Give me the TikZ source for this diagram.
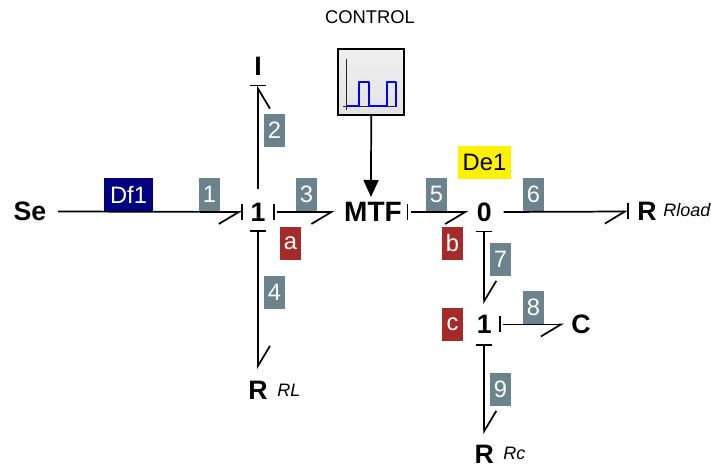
\documentclass[tikz,border=0pt]{standalone}
\usepackage{fontspec}
\setmainfont{Liberation Sans}
\usetikzlibrary{arrows.meta}
\definecolor{tagteal}{HTML}{6B838C}
\definecolor{tagred}{HTML}{A52A2A}
\definecolor{tagnavy}{HTML}{000080}
\newcommand{\fs}[1]{\fontsize{#1}{#1}\selectfont}
\tikzset{
  x=0.75pt,y=-0.75pt,
  elem/.style={inner sep=0pt,outer sep=0pt,font=\fs{20pt}\bfseries,minimum width=#1},
  elem/.default=24pt,
  sublabel/.style={inner sep=0pt,anchor=west,font=\fs{13.5pt}\itshape},
  tag/.style={inner sep=0pt,outer sep=0pt,minimum width=15.75pt,minimum height=24.6pt,text=white,font=\fs{17.8pt}},
  numtag/.style={tag,fill=tagteal},
  redtag/.style={tag,fill=tagred},
  bond/.style={line width=1.3pt},
  bondH/.style={bond,-{Straight Barb[right,length=15pt,width=18pt,line width=1.3pt,line cap=butt]}},
  bondD/.style={bond,-{Straight Barb[left,length=15pt,width=18pt,line width=1.3pt,line cap=butt]}},
  bondU/.style={bond,-{Straight Barb[right,length=15pt,width=18pt,line width=1.3pt,line cap=butt]}},
  stroke/.style={line width=1.3pt},
}
\begin{document}
\begin{tikzpicture}
\useasboundingbox (0,0) rectangle (711,466);
% tags
\node[tag,fill=tagnavy,minimum width=36.75pt] (df) at (128.5,194.5) {Df1};
\node[tag,fill=yellow,text=black,minimum width=39.75pt] (de) at (484.5,162.3) {De1};
\node[numtag] (n1) at (209.5,194.5) {1};
\node[numtag] (n2) at (274.5,130.5) {2};
\node[numtag] (n3) at (306.5,194.5) {3};
\node[numtag] (n4) at (274.5,292.5) {4};
\node[numtag] (n5) at (436.5,194.5) {5};
\node[numtag] (n6) at (533.5,194.5) {6};
\node[numtag] (n7) at (500.5,259.5) {7};
\node[numtag] (n8) at (533.5,307.7) {8};
\node[numtag] (n9) at (500.5,389.5) {9};
\node[redtag] (ma) at (290.5,243.5) {a};
\node[redtag] (mb) at (452.5,243.5) {b};
\node[redtag] (mc) at (452.5,324.5) {c};
% elements
\node[elem=42pt] (se) at (30,211.5) {Se};
\node[elem,minimum height=28.5pt] (j1) at (258,212) {1};
\node[elem,minimum height=29.25pt] (ione) at (258,66) {I};
\node[elem,minimum height=31.5pt] (rl) at (258,390) {R};
\node[elem=54.75pt,minimum height=22.5pt,font=\fs{21pt}\bfseries] (mtf) at (371,212) {\hspace{3pt}MTF};
\node[elem,minimum height=29.25pt] (j0) at (484.3,212) {0};
\node[elem=28.5pt] (rload) at (647,211.5) {R};
\node[elem,minimum height=30.75pt] (j2) at (484.3,324.5) {1};
\node[elem=25.5pt] (cap) at (581,324.5) {C};
\node[elem] (rc) at (484.3,454) {R};
\node[sublabel] (rltxt) at (277,390) {RL};
\node[sublabel] (rloadtxt) at (663,210) {Rload};
\node[sublabel] (rctxt) at (503,453.5) {Rc};
% control block
\node[inner sep=0pt,font=\fs{13.8pt}] (ctitle) at (370,17) {CONTROL};
\node[draw=black,line width=1.3pt,top color=gray!12,bottom color=gray!22,minimum width=49.5pt,minimum height=49.5pt,inner sep=0pt,outer sep=0.5pt] (ctrl) at (371.2,82) {};
\draw[line width=0.8pt,black!85] (346.7,59) -- (346.7,110);
\draw[line width=0.8pt,black!85] (343,106.3) -- (397,106.3);
\draw[line width=1.4pt,blue,line join=round] (346.7,106.3) -- (359.3,106.3) -- (359.3,81.7) -- (369.3,81.7) -- (369.3,106.3) -- (386.7,106.3) -- (386.7,81.7) -- (396.3,81.7) -- (396.3,106.3);
\draw[bond,-{Triangle[length=12.75pt,width=11.25pt]}] (ctrl.south) -- (mtf.north);
% bonds
\draw[bondH] (se.east) -- (j1.west);
\draw[bondU,shorten <=3pt] (j1.north) -- (ione.south);
\draw[bondH,shorten <=2pt] (j1.east) -- (mtf.west);
\draw[bondD] (j1.south) -- (rl.north);
\draw[bondH,shorten <=2.5pt] (mtf.east) -- (j0.west);
\draw[bondH,shorten <=2.5pt] (j0.east) -- (rload.west);
\draw[bondD] (j0.south) -- (j2.north);
\draw[bondH,shorten <=2pt] (j2.east) -- (cap.west);
\draw[bondD,shorten >=8.1pt] (j2.south) -- (rc.north);
% causal strokes
\draw[stroke] ([yshift=6pt]j1.west) -- ([yshift=-6pt]j1.west);
\draw[stroke] ([yshift=6pt]j1.east) -- ([yshift=-6pt]j1.east);
\draw[stroke] ([xshift=-6pt]j1.south) -- ([xshift=6pt]j1.south);
\draw[stroke] ([xshift=-6pt]ione.south) -- ([xshift=6pt]ione.south);
\draw[stroke] ([yshift=6pt]mtf.east) -- ([yshift=-6pt]mtf.east);
\draw[stroke] ([yshift=6pt]rload.west) -- ([yshift=-6pt]rload.west);
\draw[stroke] ([xshift=-6pt]j0.south) -- ([xshift=6pt]j0.south);
\draw[stroke] ([yshift=6pt]j2.east) -- ([yshift=-6pt]j2.east);
\draw[stroke] ([xshift=-6pt]j2.south) -- ([xshift=6pt]j2.south);
\end{tikzpicture}
\end{document}
